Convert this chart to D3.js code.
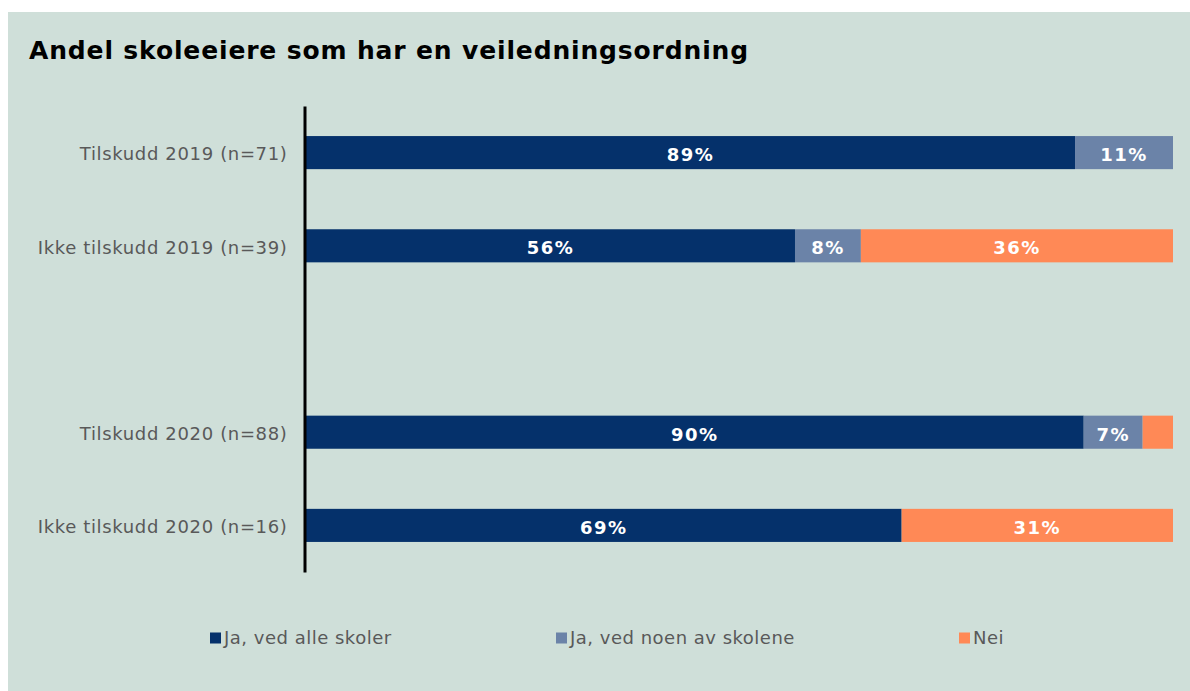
<!DOCTYPE html>
<html lang="no">
<head>
<meta charset="utf-8">
<title>Andel skoleeiere som har en veiledningsordning</title>
<script src="https://cdn.jsdelivr.net/npm/d3@7"></script>
<style>
  body { margin: 0; background: #fff; }
  text { font-family: Verdana, "DejaVu Sans", sans-serif; }
</style>
</head>
<body>
<div id="chart"></div>
<script>
// data (percent)
var categories = ["Tilskudd 2019 (n=71)", "Ikke tilskudd 2019 (n=39)", "", "Tilskudd 2020 (n=88)", "Ikke tilskudd 2020 (n=16)"];
var seriesNames = ["Ja, ved alle skoler", "Ja, ved noen av skolene", "Nei"];
var jaAlle  = [88.7, 56.4, null, 89.7, 68.7];
var jaNoen  = [11.3,  7.6, null,  6.8,  0];
var nei     = [0,    36.0, null,  3.5, 31.3];
var colors  = ["#05316b", "#6b83a8", "#ff8956"];

var W = 1190, H = 691;
var svg = d3.select("#chart").append("svg")
    .attr("width", W)
    .attr("height", H);

svg.append("rect")
    .attr("x", 8).attr("y", 12)
    .attr("width", W - 8).attr("height", H - 12)
    .attr("fill", "#cfdfd9");

svg.append("text")
    .attr("x", 29).attr("y", 59)
    .attr("font-size", 25)
    .attr("font-weight", "bold")
    .attr("letter-spacing", 0.85)
    .attr("fill", "#000")
    .text("Andel skoleeiere som har en veiledningsordning");

var x = d3.scaleLinear().domain([0, 100]).range([306, 1173]);
var y = d3.scaleBand().domain(categories).range([106, 572])
    .paddingInner(0.645).paddingOuter(0.3225);

var rows = categories.map(function (c, i) {
  return { cat: c, vals: [jaAlle[i], jaNoen[i], nei[i]] };
}).filter(function (d) { return d.cat !== ""; });

var segs = [];
rows.forEach(function (r) {
  var acc = 0;
  r.vals.forEach(function (v, k) {
    segs.push({ cat: r.cat, k: k, x0: acc, x1: acc + v, v: v });
    acc += v;
  });
});

var g = svg.append("g");
g.selectAll("rect.bar").data(segs.filter(function (d) { return d.v > 0; }))
  .enter().append("rect")
    .attr("class", "bar")
    .attr("x", function (d) { return x(d.x0); })
    .attr("width", function (d) { return x(d.x1) - x(d.x0); })
    .attr("y", function (d) { return y(d.cat); })
    .attr("height", y.bandwidth())
    .attr("fill", function (d) { return colors[d.k]; });

g.selectAll("text.val").data(segs.filter(function (d) { return d.v >= 5; }))
  .enter().append("text")
    .attr("class", "val")
    .attr("x", function (d) { return (x(d.x0) + x(d.x1)) / 2; })
    .attr("y", function (d) { return y(d.cat) + y.bandwidth() / 2 + 2; })
    .attr("dy", "0.36em")
    .attr("text-anchor", "middle")
    .attr("font-size", 18)
    .attr("font-weight", "bold")
    .attr("letter-spacing", 1.5)
    .attr("fill", "#fff")
    .text(function (d) { return Math.round(d.v) + "%"; });

// category axis
var yAxis = d3.axisLeft(y).tickSize(0).tickPadding(17);
var ax = svg.append("g").attr("transform", "translate(304.5,0)").call(yAxis);
ax.select(".domain").attr("stroke", "#000").attr("stroke-width", 3);
ax.selectAll(".tick text")
    .attr("font-size", 18)
    .attr("letter-spacing", 0.65)
    .attr("y", 2)
    .attr("fill", "#595959")
    .style("font-family", "Verdana, 'DejaVu Sans', sans-serif");

// legend
var legendX = [210, 556, 959];
var lg = svg.selectAll("g.leg").data(seriesNames).enter().append("g")
    .attr("class", "leg")
    .attr("transform", function (d, i) { return "translate(" + legendX[i] + ",638)"; });
lg.append("rect")
    .attr("x", 0).attr("y", -5.5)
    .attr("width", 11).attr("height", 11)
    .attr("fill", function (d, i) { return colors[i]; });
lg.append("text")
    .attr("x", 14).attr("dy", "0.36em")
    .attr("font-size", 18)
    .attr("letter-spacing", 0.5)
    .attr("fill", "#595959")
    .text(function (d) { return d; });
</script>
</body>
</html>
